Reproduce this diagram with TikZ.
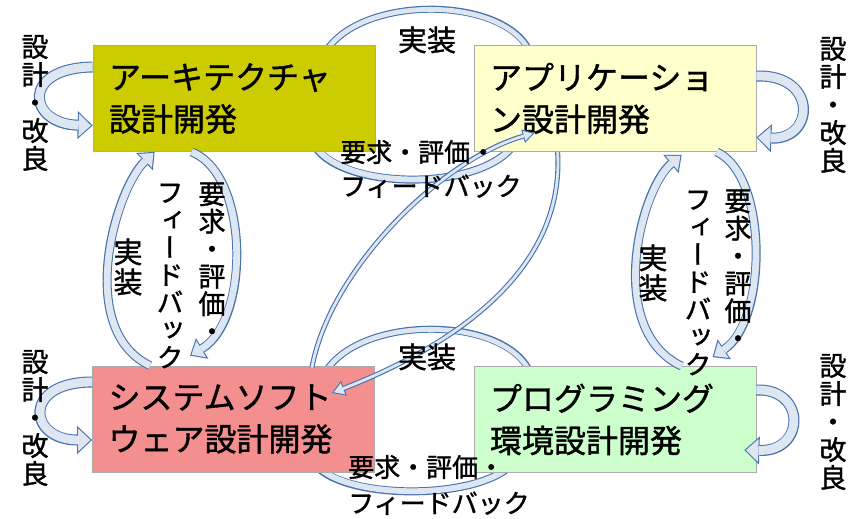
\documentclass[tikz,border=0pt]{standalone}
\usepackage{fontspec}
\usetikzlibrary{arrows.meta,calc}
\newfontfamily\jp[FakeBold=1.2]{Noto Sans CJK JP}
\newfontfamily\jpv[RawFeature=+vert,FakeBold=1.2]{Noto Sans CJK JP}
\definecolor{archc}{RGB}{204,204,0}
\definecolor{appc}{RGB}{255,255,204}
\definecolor{sysc}{RGB}{244,143,143}
\definecolor{progc}{RGB}{204,255,204}
\definecolor{boxline}{RGB}{170,170,170}
\definecolor{arrowedge}{RGB}{70,115,175}
\definecolor{arrowfill}{RGB}{222,230,242}
\tikzset{
  barrow/.code n args={3}{%
    \pgfmathsetmacro\baT{1.1*sqrt((#3)*(#3)+(#2)*(#2)/4)/((#2)/2)}%
    \pgfmathsetmacro\baLin{(#3)-\baT-1.1}%
    \pgfmathsetmacro\baWin{(#2)*\baLin/(#3)}%
    \pgfmathsetmacro\baLW{(#1)-2.2}%
    \edef\baTmp{\noexpand\tikzset{line width=#1pt,draw=arrowedge,
      -{Triangle[width=#2pt,length=#3pt,line width=0pt,color=arrowedge,fill=arrowedge]},
      postaction={draw=arrowfill,line width=\baLW pt,shorten >=\baT pt,
        -{Triangle[width=\baWin pt,length=\baLin pt,line width=0pt,color=arrowfill,fill=arrowfill]}}}}%
    \baTmp
  },
  box/.style={draw=boxline, line width=0.8pt, minimum width=282pt, minimum height=106pt,
    text width=250pt, inner xsep=16pt, inner ysep=0pt, align=left,
    font=\jp\fontsize{32}{42}\selectfont},
  impl/.style={font=\jp\fontsize{29}{30}\selectfont, inner sep=0pt, align=center},
  fb/.style={font=\jp\fontsize{26}{34}\selectfont, inner sep=0pt, align=left, anchor=west},
  vlbl/.style={font=\jpv\fontsize{27}{27.5}\selectfont, inner sep=0pt, align=center},
  side/.style={font=\jp\fontsize{27}{28}\selectfont, inner sep=0pt, align=center},
}
\begin{document}
\begin{tikzpicture}[x=1pt,y=-1pt]
\fill[white] (0,0) rectangle (862,519);
\useasboundingbox (0,0) rectangle (862,519);
% box anchors (positions only, for the arcs drawn behind boxes)
\coordinate (archC) at (234,98.5);
\coordinate (appC) at (615,98.5);
\coordinate (sysC) at (233.5,419);
\coordinate (progC) at (615,419.5);
% big arcs behind boxes
\draw[barrow={7}{20}{12}] ($(archC)+(84,-28.5)$) .. controls (335,-9) and (515,-9) .. ($(appC)+(-80,-28.5)$);
\draw[barrow={8}{20}{12}] ($(appC)+(-95,31.5)$) .. controls (508,195) and (325,195) .. ($(archC)+(74,26.5)$);
\draw[barrow={7}{20}{12}] ($(sysC)+(84.5,-29)$) .. controls (335,311) and (515,311) .. ($(progC)+(-80,-29.5)$);
\draw[barrow={8}{20}{12}] ($(progC)+(-95,30.5)$) .. controls (508,504) and (325,504) .. ($(sysC)+(74.5,26)$);
% boxes
\node[box, fill=archc] (arch) at (archC) {アーキテクチャ\\設計開発};
\node[box, fill=appc] (app) at (appC) {アプリケーショ\\ン設計開発};
\node[box, fill=sysc] (sys) at (sysC) {システムソフト\\ウェア設計開発};
\node[box, fill=progc] (prog) at (progC) {プログラミング\\環境設計開発};
% side loops
\draw[barrow={11}{28}{15}] ($(arch.west)+(0,-31.5)$) .. controls (20,68) and (28,124) .. ($(arch.west)+(0,27)$);
\draw[barrow={11}{28}{15}] ($(app.east)+(0,-22.5)$) .. controls (818,74) and (815,140) .. ($(app.east)+(0,39)$);
\draw[barrow={11}{28}{15}] ($(sys.west)+(0,-37)$) .. controls (22,382) and (28,440) .. ($(sys.west)+(0,21)$);
\draw[barrow={11}{28}{15}] ($(prog.east)+(0,-29.5)$) .. controls (806,388) and (806,452) .. ($(prog.east)+(-12,30.5)$);
% vertical pairs
\draw[barrow={9}{24}{14}] ($(sys.north west)+(58,0)$) .. controls (75,330) and (115,190) .. ($(arch.south west)+(62,0)$);
\draw[barrow={9}{24}{14}] ($(arch.south west)+(99,0)$) .. controls (250,175) and (250,320) .. ($(sys.north west)+(98,-10)$);
\draw[barrow={9}{24}{14}] ($(prog.north west)+(208,0)$) .. controls (605,330) and (640,190) .. ($(app.south west)+(208,3)$);
\draw[barrow={9}{24}{14}] ($(app.south west)+(243,0)$) .. controls (768,175) and (768,320) .. ($(prog.north west)+(239,-9)$);
% diagonals
\draw[barrow={5}{16}{13}] ($(app.south west)+(84,0)$) .. controls (565,270) and (455,345) .. ($(sys.east)+(-43,-26)$);
\draw[barrow={5}{14}{12}] ($(sys.north east)+(-63,2)$) .. controls (330,270) and (440,160) .. ($(app.south west)+(61,-19)$);
% labels
\node[impl] (t1) at (427,40) {実装};
\node[fb] (t2) at (340,169) {要求・評価・\\フィードバック};
\node[impl] (t3) at (427,357) {実装};
\node[fb, font=\jp\fontsize{26}{36}\selectfont] (t4) at (348,485) {要求・評価・\\フィードバック};
\node[impl] (v1) at (128,267) {実\\装};
\node[vlbl] (v2) at (212,262) {要\\求\\・\\評\\価\\・};
\node[vlbl] (v3) at (170,276) {フ\\ィ\\ー\\ド\\バ\\ッ\\ク};
\node[impl] (v4) at (653,273) {実\\装};
\node[vlbl] (v5) at (738,269) {要\\求\\・\\評\\価\\・};
\node[vlbl] (v6) at (698,283) {フ\\ィ\\ー\\ド\\バ\\ッ\\ク};
\node[side] (s1) at (35,103) {設\\計\\・\\改\\良};
\node[side] (s2) at (833,105) {設\\計\\・\\改\\良};
\node[side] (s3) at (35,418) {設\\計\\・\\改\\良};
\node[side] (s4) at (833,422) {設\\計\\・\\改\\良};
\end{tikzpicture}
\end{document}
